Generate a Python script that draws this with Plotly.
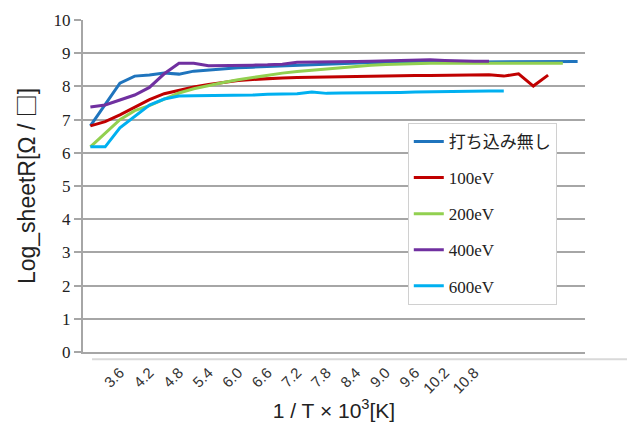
import plotly.graph_objects as go

inv_T = [3.0, 3.3, 3.6, 3.9, 4.2, 4.5, 4.8, 5.1, 5.4, 5.7, 6.0, 6.3, 6.6, 6.9, 7.2, 7.5, 7.8,
         8.1, 8.4, 8.7, 9.0, 9.3, 9.6, 9.9, 10.2, 10.5, 10.8, 11.1, 11.4, 11.7, 12.0, 12.3,
         12.6, 12.9]
tick_vals = [3.6, 4.2, 4.8, 5.4, 6.0, 6.6, 7.2, 7.8, 8.4, 9.0, 9.6, 10.2, 10.8]
tick_text = ["3.6", "4.2", "4.8", "5.4", "6.0", "6.6", "7.2", "7.8", "8.4", "9.0", "9.6", "10.2", "10.8"]

none_vals = [6.81, 7.45, 8.10, 8.31, 8.34, 8.40, 8.37, 8.46, 8.50, 8.53, 8.56, 8.58, 8.60, 8.62,
             8.64, 8.66, 8.68, 8.70, 8.71, 8.72, 8.72, 8.73, 8.73, 8.74, 8.73, 8.73, 8.73, 8.74,
             8.74, 8.74, 8.74, 8.75, 8.75, 8.75]
ev100 = [6.81, 6.94, 7.14, 7.38, 7.60, 7.78, 7.89, 7.98, 8.06, 8.13, 8.18, 8.21, 8.24, 8.25,
         8.27, 8.28, 8.29, 8.30, 8.31, 8.31, 8.32, 8.32, 8.33, 8.33, 8.34, 8.34, 8.34, 8.35,
         8.31, 8.38, 8.01, 8.34]
ev200 = [6.18, 6.60, 7.00, 7.27, 7.42, 7.62, 7.80, 7.93, 8.03, 8.12, 8.20, 8.27, 8.35, 8.40,
         8.45, 8.49, 8.53, 8.57, 8.61, 8.64, 8.66, 8.68, 8.69, 8.70, 8.70, 8.70, 8.69, 8.69,
         8.69, 8.69, 8.69, 8.70, 8.70]
ev400 = [7.38, 7.44, 7.59, 7.74, 7.97, 8.38, 8.70, 8.70, 8.62, 8.62, 8.63, 8.64, 8.65, 8.67,
         8.73, 8.73, 8.73, 8.74, 8.75, 8.76, 8.77, 8.78, 8.79, 8.80, 8.78, 8.76, 8.76, 8.76]
ev600 = [6.18, 6.18, 6.75, 7.09, 7.44, 7.62, 7.71, 7.72, 7.72, 7.72, 7.73, 7.74, 7.76, 7.77,
         7.78, 7.83, 7.79, 7.80, 7.80, 7.81, 7.82, 7.82, 7.83, 7.84, 7.84, 7.85, 7.85, 7.86,
         7.86]

series = [
    ("打ち込み無し", none_vals, "#1F74BD"),
    ("100eV", ev100, "#C00000"),
    ("200eV", ev200, "#92D050"),
    ("400eV", ev400, "#7030A0"),
    ("600eV", ev600, "#00B0F0"),
]

fig = go.Figure()
for name, vals, color in series:
    fig.add_trace(go.Scatter(
        x=inv_T[:len(vals)], y=vals, mode="lines", name=name,
        legendgroup=name,
        line=dict(color=color, width=3),
    ))

grid = "#A6A6A6"
fig.update_layout(
    width=627, height=421,
    margin=dict(l=75, r=50, t=12, b=77),
    paper_bgcolor="white", plot_bgcolor="white",
    showlegend=True,
    legend=dict(
        x=0.647, y=0.69, xanchor="left", yanchor="top",
        bgcolor="white", bordercolor="#D0D0D0", borderwidth=1,
        font=dict(family="Liberation Serif, Noto Sans CJK JP", size=17, color="#222222"),
        tracegroupgap=11,
    ),
    xaxis=dict(
        range=[2.85, 13.05], automargin=False,
        tickmode="array", tickvals=tick_vals, ticktext=tick_text,
        tickangle=-45,
        tickfont=dict(family="Liberation Sans", size=15, color="#333333"),
        showgrid=False, zeroline=False,
        showline=True, linecolor=grid, linewidth=2,
        ticks="outside", ticklen=4, tickcolor="rgba(0,0,0,0)",
        title=dict(text="1 / T × 10<sup>3</sup>[K]", font=dict(family="Liberation Sans", size=21, color="#222222"), standoff=8),
    ),
    yaxis=dict(
        range=[0, 10], dtick=1, tick0=0, automargin=False,
        tickfont=dict(family="Liberation Serif", size=17, color="#222222"),
        showgrid=True, gridcolor=grid, gridwidth=2,
        zeroline=False,
        showline=True, linecolor=grid, linewidth=2,
        ticks="outside", ticklen=7, tickcolor=grid, tickwidth=2,
        title=dict(text="Log_sheetR[Ω / <span style=\"font-family:'Noto Sans CJK JP'\">□</span>]",
                   font=dict(family="Liberation Sans", size=23, color="#222222"), standoff=14),
    ),
    shapes=[dict(type="line", xref="paper", yref="paper",
                 x0=0.018, x1=1.1, y0=-0.022, y1=-0.022,
                 line=dict(color="#D9D9D9", width=2))],
)

fig.write_html("out.html")
